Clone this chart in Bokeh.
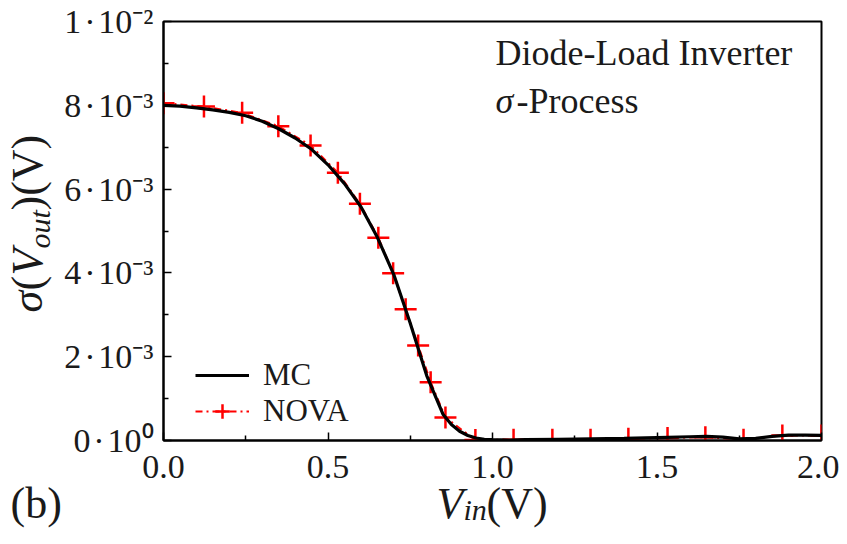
import math
from bokeh.plotting import figure
from bokeh.models import Range1d, FixedTicker, Label, Legend, LegendItem, ColumnDataSource
from bokeh.core.properties import value
from bokeh.embed import file_html
from bokeh.resources import INLINE

# ---- data (y values in units of 1e-3 V) ----
mc_x = [0.00, 0.05, 0.10, 0.15, 0.20, 0.25, 0.30, 0.35, 0.40, 0.45, 0.50, 0.55, 0.60,
        0.65, 0.70, 0.75, 0.80, 0.85, 0.875, 0.90, 0.925, 0.95, 0.975, 1.00, 1.05,
        1.10, 1.20, 1.30, 1.40, 1.50, 1.60, 1.65, 1.70, 1.75, 1.80, 1.85, 1.90, 1.95, 2.00]
mc_y = [8.00, 7.98, 7.94, 7.89, 7.83, 7.75, 7.62, 7.44, 7.22, 6.95, 6.58, 6.13, 5.58,
        4.85, 3.96, 2.80, 1.55, 0.62, 0.38, 0.22, 0.12, 0.06, 0.03, 0.02, 0.01,
        0.02, 0.03, 0.04, 0.05, 0.07, 0.09, 0.10, 0.08, 0.04, 0.05, 0.10, 0.13, 0.13, 0.12]

nova_x = [0.000, 0.123, 0.239, 0.349, 0.447, 0.530, 0.597, 0.653, 0.698, 0.736, 0.774,
          0.812, 0.857, 0.948, 1.064, 1.182, 1.298, 1.413, 1.532, 1.647, 1.763, 1.881, 2.000]
nova_y = [8.05, 7.97, 7.82, 7.50, 7.04, 6.39, 5.65, 4.84, 3.99, 3.13, 2.27,
          1.39, 0.55, 0.01, 0.02, 0.02, 0.02, 0.04, 0.06, 0.08, 0.02, 0.12, 0.12]

x_ticks = [0.0, 0.5, 1.0, 1.5, 2.0]
x_minor = [0.25, 0.75, 1.25, 1.75]
x_tick_labels = ["0.0", "0.5", "1.0", "1.5", "2.0"]
y_ticks = [0.0, 0.002, 0.004, 0.006, 0.008, 0.010]
y_minor = [0.001, 0.003, 0.005, 0.007, 0.009]
HS = "\u200a"
y_tick_labels = ["0" + HS + "·" + HS + "10\u2070",
                 "2" + HS + "·" + HS + "10\u207b\u00b3",
                 "4" + HS + "·" + HS + "10\u207b\u00b3",
                 "6" + HS + "·" + HS + "10\u207b\u00b3",
                 "8" + HS + "·" + HS + "10\u207b\u00b3",
                 "1" + HS + "·" + HS + "10\u207b\u00b2"]

series_names = ["MC", "NOVA"]
FONT = "Liberation Serif"

mc_src = ColumnDataSource(dict(x=mc_x, y=[v * 1e-3 for v in mc_y]))
nova_src = ColumnDataSource(dict(x=nova_x, y=[v * 1e-3 for v in nova_y]))

W, H = 839, 528
p = figure(width=W, height=H, output_backend="svg", toolbar_location=None,
           x_range=Range1d(0, 2), y_range=Range1d(0, 0.01),
           min_border_left=163, min_border_right=W - 821, min_border_top=21, min_border_bottom=H - 440)
p.background_fill_color = "white"
p.border_fill_color = "white"
p.outline_line_color = "black"
p.outline_line_width = 2
p.xgrid.visible = False
p.ygrid.visible = False

p.xaxis.ticker = FixedTicker(ticks=x_ticks, minor_ticks=x_minor)
p.yaxis.ticker = FixedTicker(ticks=y_ticks, minor_ticks=y_minor)
p.xaxis.major_label_overrides = {t: l for t, l in zip(x_ticks, x_tick_labels)}
p.yaxis.major_label_overrides = {t: l for t, l in zip(y_ticks, y_tick_labels)}
for ax in (p.xaxis, p.yaxis):
    ax.axis_line_width = 2
    ax.axis_line_color = "black"
    ax.major_tick_in = 8
    ax.major_tick_out = 0
    ax.minor_tick_in = 5
    ax.minor_tick_out = 0
    ax.major_tick_line_width = 1.5
    ax.minor_tick_line_width = 1.5
    ax.major_tick_line_color = "black"
    ax.minor_tick_line_color = "black"
    ax.major_label_text_font = FONT
    ax.major_label_text_font_size = "34px"
    ax.major_label_text_color = "#1a1a1a"
p.xaxis.major_label_standoff = 15
p.yaxis.major_label_standoff = 10

nova_line = p.line("x", "y", source=nova_src, line_color="#ff0000", line_width=2, line_dash="7 4 2 4")
nova_pts = p.scatter("x", "y", source=nova_src, marker="cross", size=22, line_color="#ff0000", line_width=2.5)
mc_line = p.line("x", "y", source=mc_src, line_color="black", line_width=3.2)

legend = Legend(items=[LegendItem(label=series_names[0], renderers=[mc_line]),
                       LegendItem(label=series_names[1], renderers=[nova_line, nova_pts])],
                location=(32, 11), padding=0, spacing=0, margin=0,
                glyph_width=54, glyph_height=36, label_height=36, label_standoff=14,
                label_text_font=FONT, label_text_font_size="31px", label_text_color="#1a1a1a",
                background_fill_alpha=0, border_line_alpha=0)
p.add_layout(legend)


def lab(x, y, text, size, italic=False):
    # annotation inside the frame (frame-relative screen coords)
    p.add_layout(Label(x=x, y=y, x_units="screen", y_units="screen", text=text,
                       text_font=FONT, text_font_size=size,
                       text_font_style="italic" if italic else "normal",
                       text_color="#1a1a1a", text_align="left", text_baseline="alphabetic"))


def outer(dx, dy, text, size, italic=False, angle=0.0):
    # text outside the frame: anchored at the data origin, offset in pixels
    p.text(x=[0], y=[0], text=[text], x_offset=dx, y_offset=dy, angle=angle,
           text_font=value(FONT), text_font_size=value(size),
           text_font_style="italic" if italic else "normal",
           text_color="#1a1a1a", text_align="left", text_baseline="alphabetic",
           level="overlay")


lab(332, 388, "Diode-Load Inverter", "36px")
lab(332, 340, "\u03c3", "36px", italic=True)
lab(353, 340, "-Process", "36px")

# x-axis label V_in(V)
outer(273, 63, "V", "44px", italic=True)
outer(300, 69, "in", "30px", italic=True)
outer(323, 63, "(V)", "44px")
# panel tag
outer(-153, 63, "(b)", "44px")

# y-axis label sigma(V_out)(V), reading upwards
A = math.pi / 2
outer(-136, -128, "\u03c3", "44px", italic=True, angle=A)
outer(-136, -150, "(", "44px", angle=A)
outer(-136, -165, "V", "44px", italic=True, angle=A)
outer(-124, -192, "out", "30px", italic=True, angle=A)
outer(-136, -230, ")(V)", "44px", angle=A)

open("out.html", "w").write(file_html(p, INLINE))
